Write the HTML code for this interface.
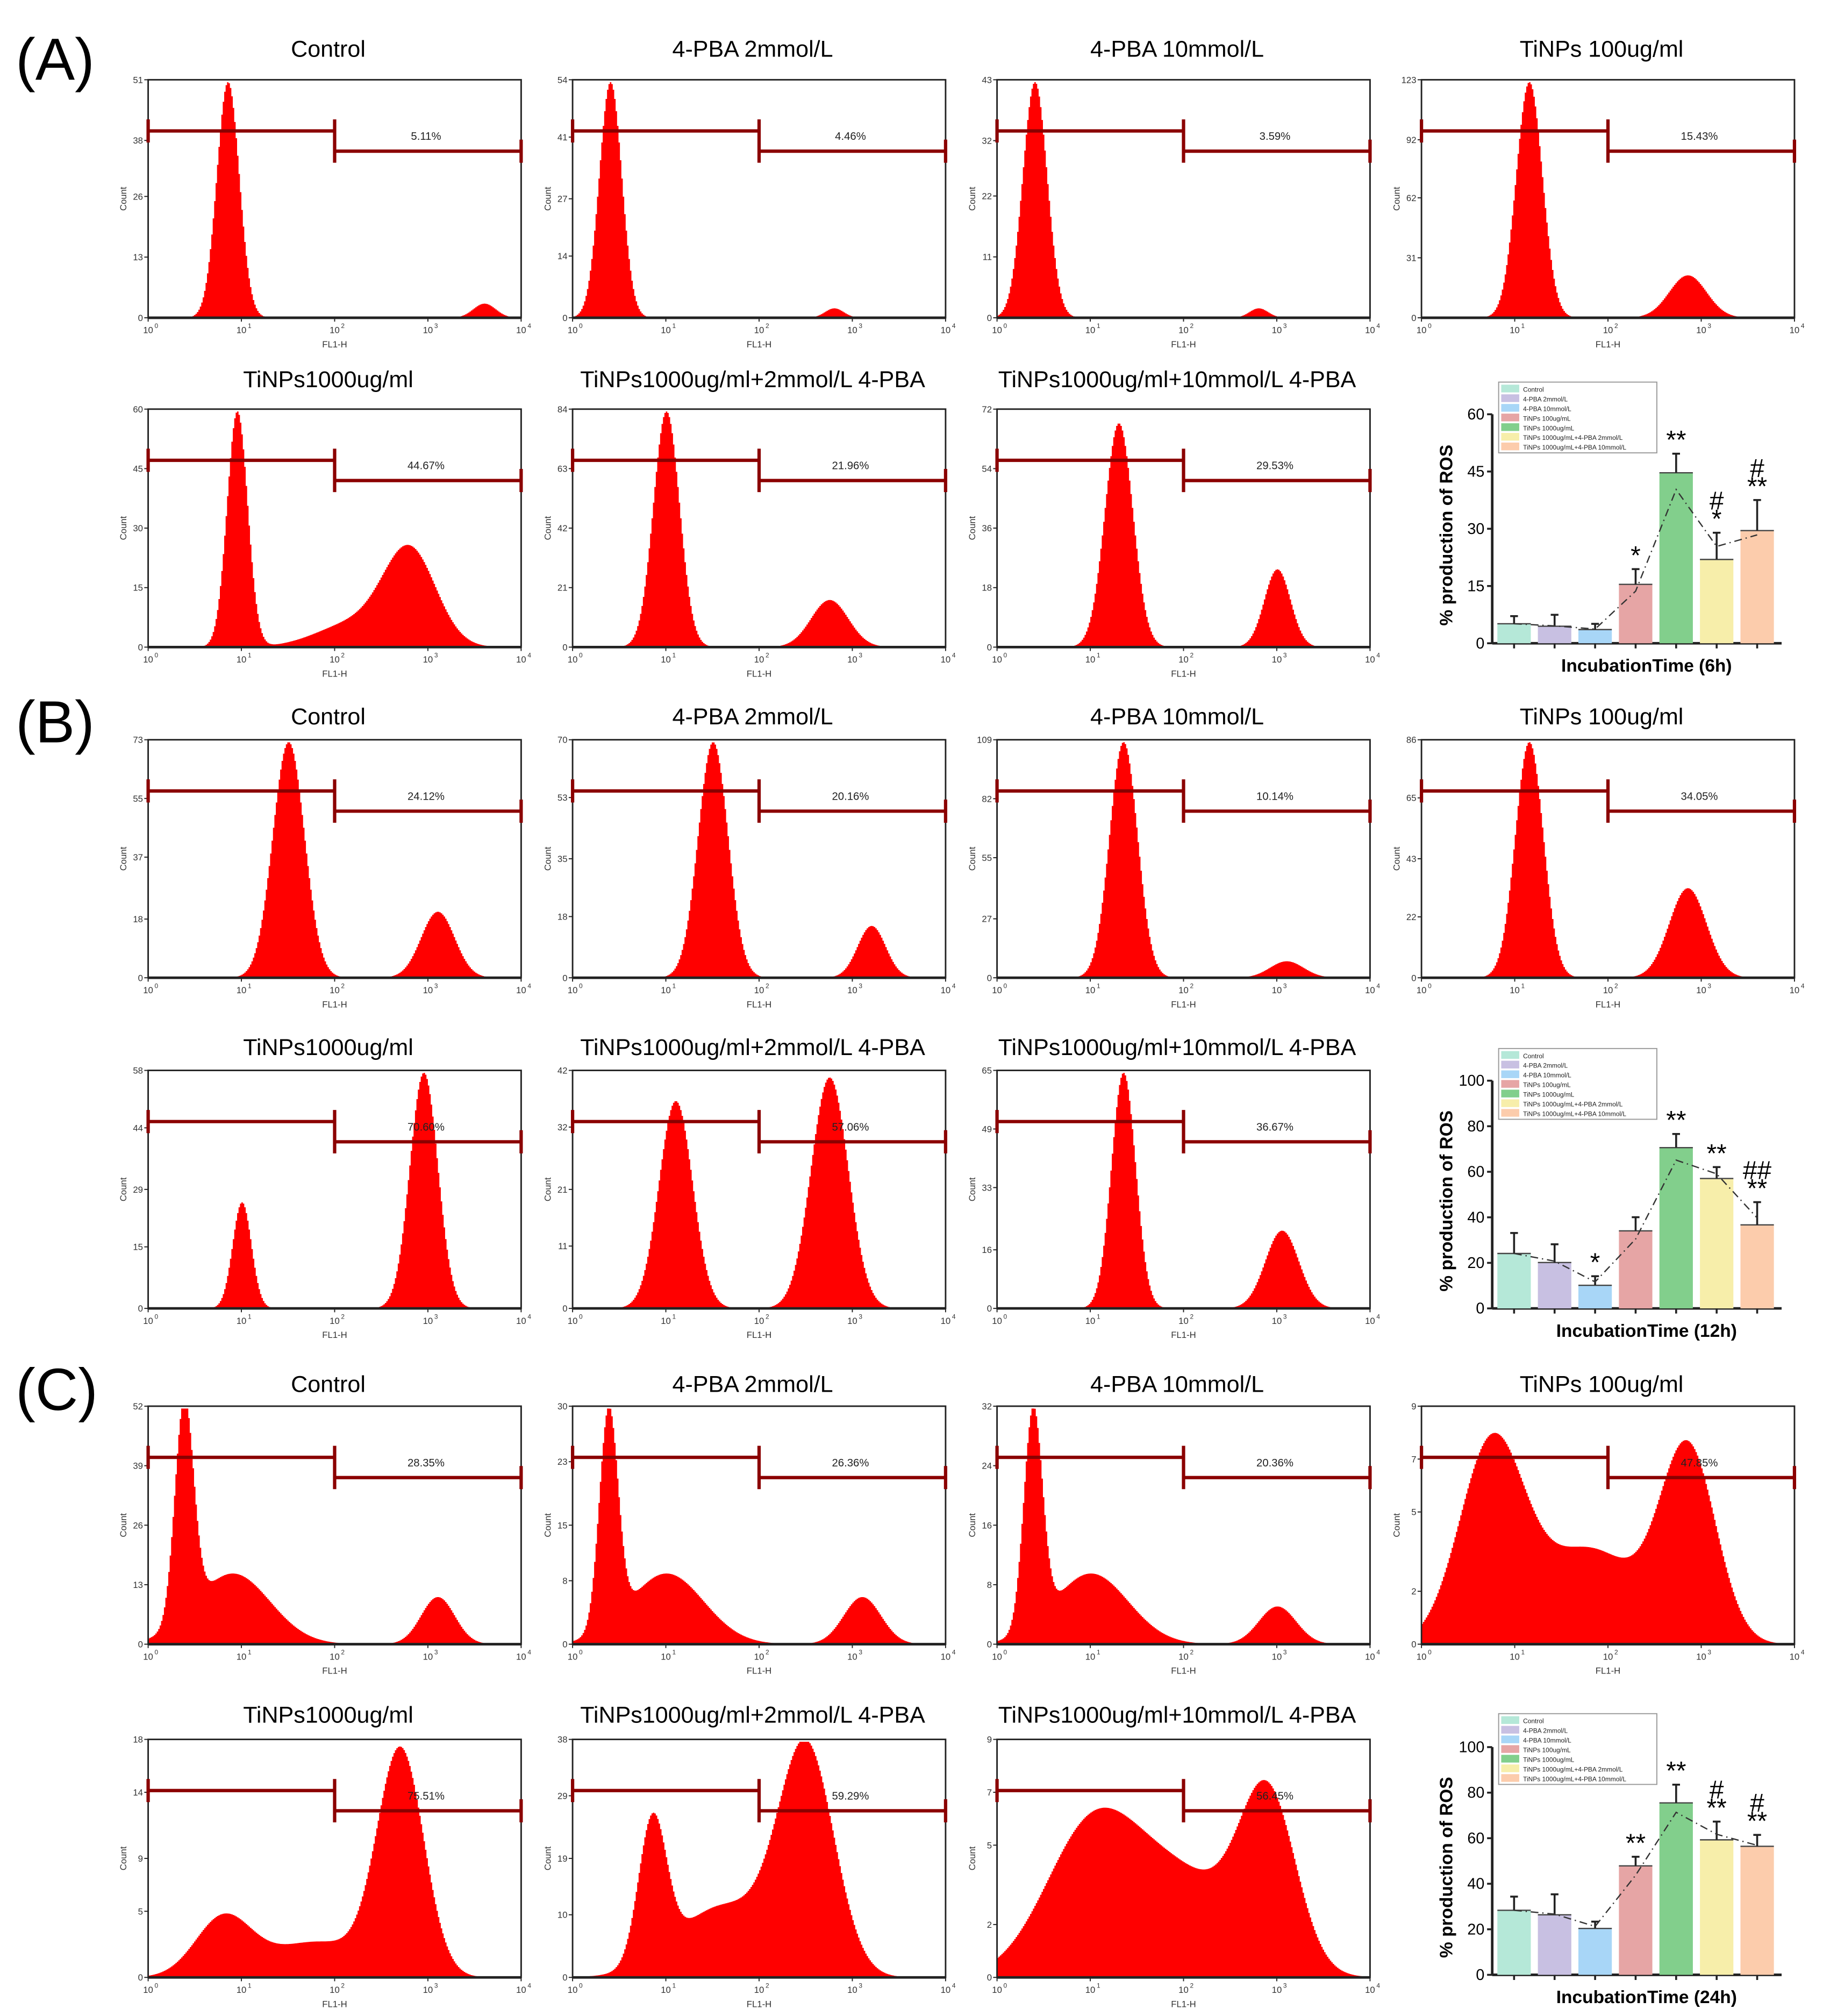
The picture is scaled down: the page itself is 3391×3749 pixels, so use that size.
<!DOCTYPE html>
<html><head><meta charset="utf-8">
<style>
html,body{margin:0;padding:0;background:#fff;}
svg{display:block;font-family:"Liberation Sans",Arial,sans-serif;}
</style></head>
<body>
<svg id="fig" width="3391" height="3749" viewBox="0 0 1417 1567" xmlns="http://www.w3.org/2000/svg">
<rect width="1417" height="1567" fill="#fff"/>
<text x="12" y="62" font-size="46">(A)</text>
<text x="12" y="577" font-size="46">(B)</text>
<text x="12" y="1096" font-size="46">(C)</text>
</svg>
<script>
const titles=["Control","4-PBA 2mmol/L","4-PBA 10mmol/L","TiNPs 100ug/ml","TiNPs1000ug/ml","TiNPs1000ug/ml+2mmol/L 4-PBA","TiNPs1000ug/ml+10mmol/L 4-PBA"];
const histMax=[51,54,43,123,60,84,72, 73,70,109,86,58,42,65, 52,30,32,9,18,38,9];
const histTicks=[[0,13,26,38,51],[0,14,27,41,54],[0,11,22,32,43],[0,31,62,92,123],[0,15,30,45,60],[0,21,42,63,84],[0,18,36,54,72],
[0,18,37,55,73],[0,18,35,53,70],[0,27,55,82,109],[0,22,43,65,86],[0,15,29,44,58],[0,11,21,32,42],[0,16,33,49,65],
[0,13,26,39,52],[0,8,15,23,30],[0,8,16,24,32],[0,2,5,7,9],[0,5,9,14,18],[0,10,19,29,38],[0,2,5,7,9]];
const histPct=["5.11%","4.46%","3.59%","15.43%","44.67%","21.96%","29.53%","24.12%","20.16%","10.14%","34.05%","70.60%","57.06%","36.67%","28.35%","26.36%","20.36%","47.85%","75.51%","59.29%","56.45%"];
const histPeaks=[
[[0.85,1.0,0.12],[3.6,0.06,0.12]],
[[0.4,1.0,0.12],[2.8,0.04,0.1]],
[[0.4,1.0,0.13],[2.8,0.04,0.1]],
[[1.15,1.0,0.14],[2.85,0.18,0.2]],
[[0.95,1.0,0.11],[2.8,0.4,0.28],[2.2,0.1,0.4]],
[[1.0,1.0,0.14],[2.75,0.2,0.2]],
[[1.3,0.95,0.15],[3.0,0.33,0.14]],
[[1.5,1.0,0.17],[3.1,0.28,0.18]],
[[1.5,1.0,0.16],[3.2,0.22,0.15]],
[[1.35,1.0,0.15],[3.1,0.07,0.18]],
[[1.15,1.0,0.15],[2.85,0.38,0.2]],
[[1.0,0.45,0.1],[2.95,1.0,0.15]],
[[1.1,0.88,0.18],[2.75,0.98,0.2]],
[[1.35,1.0,0.13],[3.05,0.33,0.18]],
[[0.38,0.92,0.1],[0.9,0.3,0.4],[3.1,0.2,0.18]],
[[0.38,0.92,0.1],[1.0,0.3,0.4],[3.1,0.2,0.2]],
[[0.38,0.92,0.1],[1.0,0.3,0.4],[3.0,0.16,0.2]],
[[0.75,0.85,0.35],[2.85,0.82,0.3],[1.8,0.4,0.5]],
[[0.8,0.25,0.3],[2.7,0.95,0.25],[1.8,0.15,0.5]],
[[0.85,0.6,0.15],[2.5,0.95,0.3],[1.6,0.3,0.5]],
[[1.0,0.6,0.5],[2.9,0.7,0.3],[2.0,0.4,0.6]]];
const barCats=["Control","4-PBA 2mmol/L","4-PBA 10mmol/L","TiNPs 100ug/mL","TiNPs 1000ug/mL","TiNPs 1000ug/mL+4-PBA 2mmol/L","TiNPs 1000ug/mL+4-PBA 10mmol/L"];
const barColors=["#b5e8d8","#c8c0e2","#a8d6f7","#e6a5a5","#82cf8c","#f7eeaa","#fcccac"];
const vals6h=[5.11,4.46,3.59,15.43,44.67,21.96,29.53];
const err6h=[2,3,1.5,4,5,7,8];
const vals12h=[24.12,20.16,10.14,34.05,70.6,57.06,36.67];
const err12h=[9,8,4,6,6,5,10];
const vals24h=[28.35,26.36,20.36,47.85,75.51,59.29,56.45];
const err24h=[6,9,3,4,8,8,5];
const sig6h=[[],[],[],["*"],["**"],["#","*"],["#","**"]];
const sig12h=[[],[],["*"],[],["**"],["**"],["##","**"]];
const sig24h=[[],[],[],["**"],["**"],["#","**"],["#","**"]];

const svg=document.getElementById('fig');
const NS="http://www.w3.org/2000/svg";
function mk(tag,attrs,parent){const e=document.createElementNS(NS,tag);for(const k in attrs)e.setAttribute(k,attrs[k]);(parent||svg).appendChild(e);return e;}

const colX=[115,445,775,1105];
const rowY=[[62,318],[575,832],[1093,1352]];
const titleY=[[44,301],[563,820],[1082,1339]];
const PW=290,PH=185;

function drawHist(idx,x0,y0,title,ty){
  const g=mk('g',{});
  
  
  const t=mk('text',{x:x0+PW/2-5,y:ty,'font-size':18,'text-anchor':'middle'},g);t.textContent=title;
  
  
  const max=histMax[idx];
  const xs=v=>x0+v/4*PW, ys=v=>y0+PH-v/max*PH;
  const N=260;let d='M'+x0+','+(y0+PH);
  const peaks=histPeaks[idx];
  for(let i=0;i<=N;i++){const lv=i/N*4;let s=0;for(const p of peaks)s+=p[1]*Math.exp(-0.5*Math.pow((lv-p[0])/p[2],2));
    s=Math.min(s,1);const yv=ys(s*max*0.99).toFixed(2);
    d+=' L'+xs(lv).toFixed(2)+','+yv+' L'+xs(Math.min(4,lv+4/N)).toFixed(2)+','+yv;}
  d+=' L'+(x0+PW)+','+(y0+PH)+'Z';
  const h=mk('path',{d:d,fill:'#ff0000'},g);
  
  
  mk('rect',{x:x0,y:y0,width:PW,height:PH,fill:'none',stroke:'#222','stroke-width':1.2},g);
  mk('line',{x1:x0,y1:y0+PH,x2:x0+PW,y2:y0+PH,stroke:'#222','stroke-width':2},g);
  histTicks[idx].forEach(v=>{const yy=ys(v);mk('line',{x1:x0-3,y1:yy,x2:x0,y2:yy,stroke:'#222','stroke-width':0.8},g);
    const tt=mk('text',{x:x0-4,y:yy+2.5,'font-size':7,'text-anchor':'end',fill:'#333'},g);tt.textContent=v;});
  for(let k=0;k<=4;k++){const xx=xs(k);mk('line',{x1:xx,y1:y0+PH,x2:xx,y2:y0+PH+3,stroke:'#222','stroke-width':0.8},g);
    const tt=mk('text',{x:xx,y:y0+PH+12,'font-size':7,'text-anchor':'middle',fill:'#333'},g);tt.textContent='10';
    const sp=mk('text',{x:xx+5,y:y0+PH+8,'font-size':5,fill:'#333'},g);sp.textContent=k;}
  const fl=mk('text',{x:x0+PW/2,y:y0+PH+23,'font-size':7,'text-anchor':'middle',fill:'#333'},g);fl.textContent='FL1-H';
  const ct=mk('text',{x:0,y:0,'font-size':7,'text-anchor':'middle',fill:'#333',transform:`translate(${x0-17},${y0+PH/2}) rotate(-90)`},g);ct.textContent='Count';
  const mx=xs(2),gy1=y0+PH*0.215,gy2=y0+PH*0.3;
  const gs={stroke:'#8b0000','stroke-width':2.6};
  mk('line',Object.assign({x1:x0,y1:gy1,x2:mx,y2:gy1},gs),g);
  mk('line',Object.assign({x1:x0,y1:gy1-9,x2:x0,y2:gy1+9},gs),g);
  mk('line',Object.assign({x1:mx,y1:gy1-9,x2:mx,y2:gy2+9},gs),g);
  mk('line',Object.assign({x1:mx,y1:gy2,x2:x0+PW,y2:gy2},gs),g);
  mk('line',Object.assign({x1:x0+PW,y1:gy2-9,x2:x0+PW,y2:gy2+9},gs),g);
  const pt=mk('text',{x:x0+PW*0.745,y:gy1+7,'font-size':8.5,'text-anchor':'middle',fill:'#222'},g);pt.textContent=histPct[idx];
  
  
}
let idx=0;
for(let r=0;r<3;r++){
  for(let c=0;c<4;c++){drawHist(idx,colX[c],rowY[r][0],titles[c],titleY[r][0]);idx++;}
  for(let c=0;c<3;c++){drawHist(idx,colX[c],rowY[r][1],titles[4+c],titleY[r][1]);idx++;}
}

function drawBar(vals,errs,sigs,ymax,step,y0,yTop,legY,label,name){
  const g=mk('g',{});
  
  
  const ax=1160,ar=1385;
  const ys=v=>y0-v/ymax*(y0-yTop);
  const xc=i=>1177+i*31.5;
  mk('line',{x1:ax,y1:y0,x2:ar,y2:y0,stroke:'#222','stroke-width':2},g);
  mk('line',{x1:ax,y1:y0,x2:ax,y2:yTop,stroke:'#222','stroke-width':2},g);
  for(let v=0;v<=ymax;v+=step){const yy=ys(v);mk('line',{x1:ax-4,y1:yy,x2:ax,y2:yy,stroke:'#222','stroke-width':1.5},g);
    const t=mk('text',{x:ax-6,y:yy+4,'font-size':12,'text-anchor':'end'},g);t.textContent=v;}
  vals.forEach((v,i)=>{
    const b=mk('rect',{x:xc(i)-13,y:ys(v),width:26,height:y0-ys(v),fill:barColors[i]},g);
    
    
    mk('line',{x1:xc(i)-13,y1:ys(v),x2:xc(i)+13,y2:ys(v),stroke:'#444','stroke-width':1},g);
    const ey=ys(v+errs[i]);
    mk('line',{x1:xc(i),y1:ys(v),x2:xc(i),y2:ey,stroke:'#222','stroke-width':1.5},g);
    mk('line',{x1:xc(i)-3,y1:ey,x2:xc(i)+3,y2:ey,stroke:'#222','stroke-width':1.5},g);
    mk('line',{x1:xc(i),y1:y0,x2:xc(i),y2:y0+4,stroke:'#222','stroke-width':1.5},g);
    const s=sigs[i];
    s.forEach((str,k)=>{const t=mk('text',{x:xc(i),y:ey-4-(s.length-1-k)*14,'font-size':20,'text-anchor':'middle'},g);t.textContent=str;});
  });
  let d='';vals.forEach((v,i)=>{d+=(i?' L':'M')+xc(i)+','+ys(v*0.85+ (i>0?vals[i-1]*0.15:v*0.15));});
  mk('path',{d:d,fill:'none',stroke:'#333','stroke-width':1,'stroke-dasharray':'6,3,1,3'},g);
  const lg=mk('g',{},g);
  
  
  mk('rect',{x:1165,y:legY,width:123,height:55,fill:'#fff',stroke:'#999','stroke-width':0.8},lg);
  barCats.forEach((c,i)=>{mk('rect',{x:1167,y:legY+2+i*7.5,width:14,height:6,fill:barColors[i]},lg);
    const t=mk('text',{x:1184,y:legY+7.5+i*7.5,'font-size':5,fill:'#222'},lg);t.textContent=c;});
  const yl=mk('text',{x:0,y:0,'font-size':14,'font-weight':'bold','text-anchor':'middle',transform:`translate(1129,${(y0+yTop)/2+5}) rotate(-90)`},g);yl.textContent='% production of ROS';
  const xl=mk('text',{x:1280,y:y0+22,'font-size':14,'font-weight':'bold','text-anchor':'middle'},g);xl.textContent=label;
}
drawBar(vals6h,err6h,sig6h,60,15,500,322,297,'IncubationTime (6h)','bar-chart-6h');
drawBar(vals12h,err12h,sig12h,100,20,1017,840,815,'IncubationTime (12h)','bar-chart-12h');
drawBar(vals24h,err24h,sig24h,100,20,1535,1358,1332,'IncubationTime (24h)','bar-chart-24h');
</script>
</body></html>
